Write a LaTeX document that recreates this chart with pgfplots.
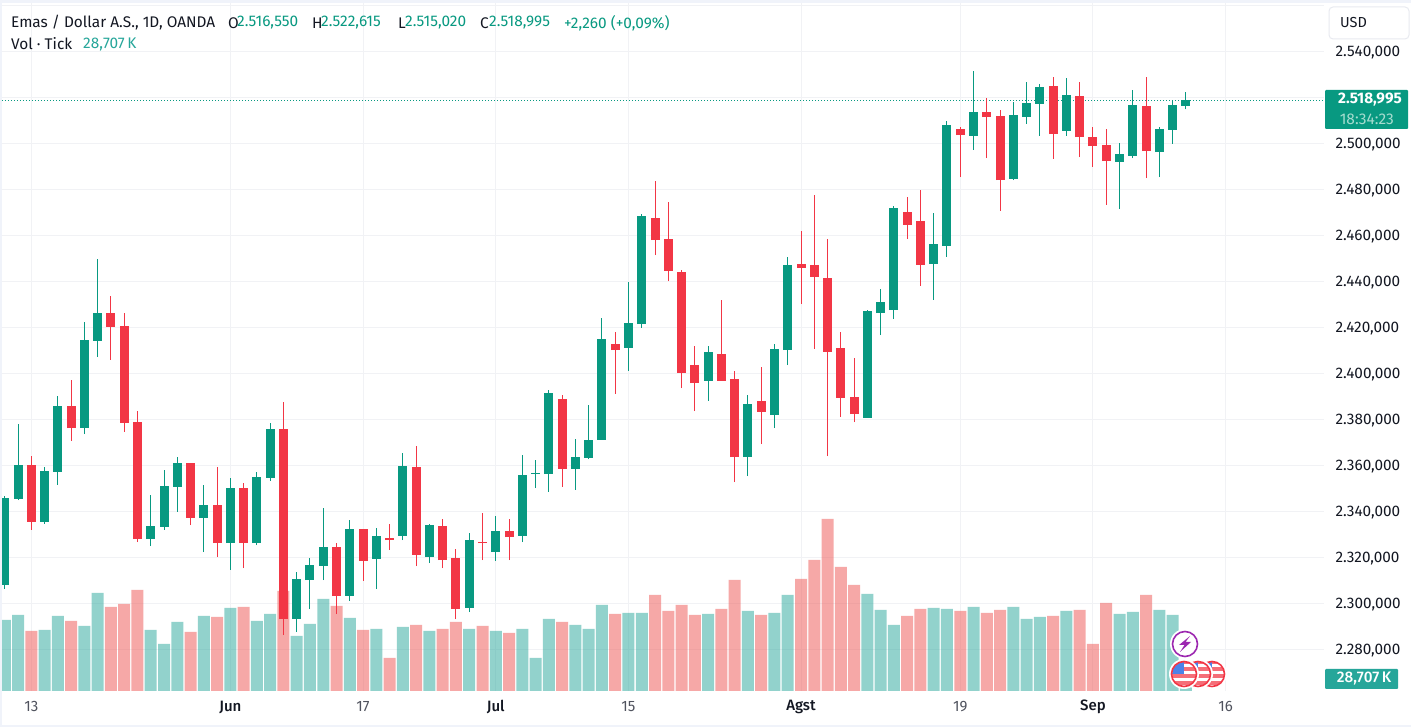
\documentclass[border=0pt]{standalone}
\usepackage{pgfplots}
\usepackage{pgfplotstable}
\usepackage{fontspec}
\pgfplotsset{compat=1.18}
\setmainfont{Fira Sans}
\newfontfamily\medfont{Fira Sans Medium}
\definecolor{cg}{HTML}{089981}
\definecolor{cr}{HTML}{F23645}
\definecolor{vg}{HTML}{26A69A}
\definecolor{vr}{HTML}{EF5350}
\definecolor{ink}{HTML}{131722}
\definecolor{tickgray}{HTML}{50535E}
\definecolor{gridc}{HTML}{F1F2F5}
\definecolor{strip}{HTML}{F0F3FA}
\definecolor{purp}{HTML}{9C27B0}
\definecolor{flagblue}{HTML}{4C82E8}
\definecolor{flagred}{HTML}{F56E78}
\definecolor{boxline}{HTML}{E8EAF0}
\definecolor{timec}{HTML}{A6DCCF}
% i high top bottom low (price, USD)
\pgfplotstableread{
i hi top bot lo
0 2346.9 2346.1 2308.4 2306.6
1 2378.3 2360.4 2345.8 2345.2
3 2359.5 2357.8 2335.8 2334.9
4 2390.4 2386.1 2357.5 2351.9
6 2422.6 2414.8 2376.5 2373.9
7 2450.0 2426.5 2414.4 2407.4
11 2347.4 2333.9 2328.2 2325.2
12 2358.2 2351.3 2333.5 2332.2
13 2363.9 2361.3 2350.9 2340.0
15 2351.7 2343.0 2337.4 2322.6
17 2354.8 2350.4 2326.5 2314.8
19 2357.4 2355.2 2326.5 2325.6
20 2378.7 2376.1 2354.8 2353.5
22 2313.9 2310.9 2293.4 2287.8
23 2320.0 2317.0 2310.4 2297.8
24 2341.7 2324.8 2316.5 2310.4
26 2336.5 2332.6 2303.5 2301.3
28 2333.0 2329.6 2319.6 2306.5
30 2365.6 2359.9 2329.6 2327.8
32 2334.8 2334.3 2320.4 2317.8
35 2330.9 2327.8 2298.3 2296.5
37 2338.2 2331.7 2322.6 2318.7
39 2364.8 2356.1 2329.6 2326.9
40 2362.6 2356.9 2356.5 2350.4
41 2393.0 2391.7 2356.5 2348.7
43 2371.7 2363.9 2358.7 2349.6
44 2386.5 2371.3 2363.5 2363.0
45 2424.3 2415.2 2371.3 2371.3
47 2440.0 2422.2 2411.3 2401.3
48 2469.6 2468.7 2421.7 2420.0
53 2412.2 2409.6 2397.0 2388.3
56 2390.9 2386.9 2363.9 2355.6
58 2413.0 2410.9 2382.2 2376.5
59 2450.9 2447.4 2410.4 2403.9
65 2427.8 2427.4 2380.9 2380.9
66 2436.9 2431.3 2426.5 2416.9
67 2473.0 2472.2 2427.8 2423.9
70 2470.0 2456.5 2447.8 2432.2
71 2510.0 2508.3 2455.7 2450.9
73 2531.7 2513.9 2503.5 2497.4
76 2518.3 2512.6 2484.8 2484.3
77 2526.9 2517.8 2511.7 2508.7
78 2526.1 2524.8 2517.4 2503.5
80 2528.7 2521.3 2505.7 2503.5
84 2500.4 2495.7 2492.2 2471.7
85 2523.5 2516.9 2494.8 2493.9
87 2507.4 2506.5 2496.5 2485.6
88 2518.7 2516.9 2506.1 2500.0
89 2522.6 2519.0 2516.55 2515.0
}\greentab
\pgfplotstableread{
i hi top bot lo
2 2364.3 2360.4 2335.8 2332.3
5 2397.4 2386.1 2376.5 2370.9
8 2433.9 2426.5 2420.4 2406.1
9 2426.5 2420.9 2378.7 2374.8
10 2383.9 2379.1 2328.2 2326.9
14 2361.3 2361.3 2337.4 2334.3
16 2359.5 2343.0 2326.5 2320.4
18 2352.6 2350.4 2326.5 2315.6
21 2387.8 2376.1 2293.4 2286.5
25 2326.5 2324.8 2303.5 2295.6
27 2332.6 2332.6 2318.7 2310.0
29 2334.8 2328.7 2327.8 2323.5
31 2368.7 2359.5 2321.3 2316.5
33 2336.9 2333.9 2319.1 2315.6
34 2323.9 2320.0 2297.8 2293.4
36 2339.6 2326.9 2326.5 2319.1
38 2336.9 2331.7 2329.1 2319.1
42 2390.9 2389.1 2358.7 2350.9
46 2418.3 2413.0 2410.4 2391.3
49 2483.9 2467.8 2458.2 2451.7
50 2474.8 2458.7 2444.8 2440.4
51 2445.2 2444.3 2400.4 2393.9
52 2412.2 2403.9 2396.0 2383.9
54 2432.2 2408.7 2397.0 2397.0
55 2401.3 2397.8 2363.9 2353.0
57 2403.0 2388.3 2383.5 2369.5
60 2462.2 2447.8 2446.1 2430.4
61 2477.8 2447.4 2442.2 2410.9
62 2458.7 2441.7 2409.6 2364.3
63 2418.3 2411.3 2389.6 2381.3
64 2406.9 2390.0 2382.6 2379.1
68 2476.9 2470.4 2464.8 2458.7
69 2480.0 2466.5 2447.4 2438.3
72 2507.4 2506.5 2503.9 2485.6
74 2520.0 2513.9 2511.7 2493.9
75 2514.8 2512.2 2484.3 2470.9
79 2529.1 2525.2 2504.3 2493.5
81 2526.9 2520.9 2503.0 2494.3
82 2507.4 2503.0 2499.1 2490.0
83 2506.5 2499.6 2492.6 2473.5
86 2529.1 2516.5 2496.9 2485.2
}\redtab
% volume in K
\pgfplotstableread{
i v
0 156.2
1 167.2
3 134.2
4 165
6 143
7 215.6
11 134.2
12 103.4
13 151.8
15 165
17 182.6
19 154
20 169.4
22 121
23 147.4
24 202.4
26 160.6
28 136.4
30 140.8
32 132
35 136.4
37 132
39 136.4
40 72.6
41 158.4
43 145.2
44 136.4
45 189.2
47 171.6
48 171.6
53 169.4
56 176
58 171.6
59 211.2
65 213.4
66 178.2
67 145.2
70 182.6
71 180.4
73 184.8
76 184.8
77 158.4
78 162.8
80 176
84 169.4
85 173.8
87 178.2
88 167.2
89 28.7
}\volgreen
\pgfplotstableread{
i v
2 132
5 154
8 184.8
9 191.4
10 222.2
14 129.8
16 162.8
18 184.8
21 220
25 187
27 134.2
29 72.6
31 145.2
33 136.4
34 151.8
36 143
38 127.6
42 151.8
46 169.4
49 211.2
50 176
51 189.2
52 167.2
54 180.4
55 244.2
57 167.2
60 246.4
61 288.2
62 378.4
63 272.8
64 233.2
68 165
69 180.4
72 176
74 171.6
75 178.2
79 165
81 178.2
82 103.4
83 193.6
86 211.2
}\volred
\pgfplotsset{
  base/.style={
    scale only axis, anchor=south west, at={(2pt,36pt)},
    width=1322pt, height=687.5pt,
    xmin=-0.208, xmax=99.415,
  },
}
\begin{document}
\begin{tikzpicture}[x=1pt,y=1pt]
\useasboundingbox (0,0) rectangle (1411,727);
\fill[strip] (0,0) rectangle (1411,727);
\fill[white] (2,2) rectangle (1411,723.5);
% price axis: grid, tick labels, last-price line
\begin{axis}[base,
  ymin=2262.17, ymax=2561.09,
  axis line style={draw=none}, tick style={draw=none},
  xtick={2,17,27,37,47,60,72,82,92},
  xticklabels={{\color{tickgray}13},{\medfont Jun},{\color{tickgray}17},{\medfont Jul},{\color{tickgray}15},{\medfont Agst},{\color{tickgray}19},{\medfont Sep},{\color{tickgray}16}},
  xticklabel style={font=\fontsize{15}{17}\selectfont, text=ink, anchor=center, yshift=-16pt},
  ytick={2280,2300,2320,2340,2360,2380,2400,2420,2440,2460,2480,2500,2520,2540,2560},
  yticklabels={2.280{,}000,2.300{,}000,2.320{,}000,2.340{,}000,2.360{,}000,2.380{,}000,2.400{,}000,2.420{,}000,2.440{,}000,2.460{,}000,2.480{,}000,2.500{,}000,,2.540{,}000,},
  yticklabel pos=right,
  yticklabel style={font=\fontsize{15.3}{17}\selectfont, text=ink, anchor=west, xshift=8pt, yshift=-1pt},
  grid=major, grid style={draw=gridc, line width=1pt},
]
\addplot[cg, line width=1pt, dash pattern=on 1pt off 2pt] coordinates {(-0.208,2518.995)(99.415,2518.995)};
\end{axis}
% volume
\begin{axis}[base, hide axis, ymin=0, ymax=1512.5]
\addplot[ybar, bar width=12pt, bar shift=0pt, draw=none, fill=vg, fill opacity=0.5] table[x=i,y=v] \volgreen;
\addplot[ybar, bar width=12pt, bar shift=0pt, draw=none, fill=vr, fill opacity=0.5] table[x=i,y=v] \volred;
\end{axis}
% candles
\begin{axis}[base, hide axis, ymin=2262.17, ymax=2561.09]
\addplot[draw=none, mark=none, error bars/.cd, y dir=plus, y explicit, error mark=none, error bar style={draw=cg, line width=1pt}] table[x=i, y=lo, y error expr=\thisrow{hi}-\thisrow{lo}] \greentab;
\addplot[draw=none, mark=none, error bars/.cd, y dir=plus, y explicit, error mark=none, error bar style={draw=cr, line width=1pt}] table[x=i, y=lo, y error expr=\thisrow{hi}-\thisrow{lo}] \redtab;
\addplot[draw=none, mark=none, error bars/.cd, y dir=plus, y explicit, error mark=none, error bar style={draw=cg, line width=9pt}] table[x=i, y=bot, y error expr=\thisrow{top}-\thisrow{bot}] \greentab;
\addplot[draw=none, mark=none, error bars/.cd, y dir=plus, y explicit, error mark=none, error bar style={draw=cr, line width=9pt}] table[x=i, y=bot, y error expr=\thisrow{top}-\thisrow{bot}] \redtab;
\end{axis}
% header
\tikzset{hd/.style={anchor=west, inner sep=0pt, text=ink, font=\fontsize{15.4}{17}\selectfont}}
\node[hd] at (11,704) {Emas / Dollar A.S., 1D, OANDA};
\node[hd] at (228,704) {O};
\node[hd, text=cg] at (237,704) {2.516,550};
\node[hd] at (312,704) {H};
\node[hd, text=cg] at (321,704) {2.522,615};
\node[hd] at (398,704) {L};
\node[hd, text=cg] at (405,704) {2.515,020};
\node[hd] at (480,704) {C};
\node[hd, text=cg] at (489,704) {2.518,995};
\node[hd, text=cg] at (564,704) {+2,260 (+0,09\%)};
\node[hd] at (11,683) {Vol · Tick};
\node[hd, text=vg] at (83,683) {28,707\,K};
% USD box
\draw[draw=boxline, fill=white, line width=1pt, rounded corners=4pt] (1329,688) rectangle (1409,720);
\node[anchor=west, inner sep=0pt, text=ink, font=\fontsize{14.5}{17}\selectfont] at (1340,704) {USD};
% last price tag
\fill[cg, rounded corners=1pt] (1325,598) rectangle (1408,637);
\node[anchor=east, inner sep=0pt, text=white, font=\fontsize{15.3}{17}\selectfont\bfseries] at (1402,627) {2.518,995};
\node[anchor=east, inner sep=0pt, text=timec, font=\fontsize{15.5}{17}\selectfont] at (1394,608) {18:34:23};
% volume tag
\fill[vg, rounded corners=1pt] (1325,38) rectangle (1398,58);
\node[anchor=center, inner sep=0pt, text=white, font=\fontsize{15.3}{17}\selectfont\medfont] at (1364,48) {28,707\,K};
% event icons
\fill[white] (1185,83) circle (15);
\draw[purp, line width=1.6pt] (1185,83) circle (12.5);
\fill[purp] (1190,91) -- (1179,82) -- (1184.5,82) -- (1180,75) -- (1191,85) -- (1185.5,85) -- cycle;
\foreach \cx/\cl/\cc/\cr in {1212/1199/1212/1225,1198/1185/1198/1211,1184/1171/1184/1197}{
  \fill[white] (\cx,53) circle (15);
  \begin{scope}
    \clip (\cx,53) circle (12);
    \fill[flagred] (\cl,42) rectangle (\cr,45.5);
    \fill[flagred] (\cl,49) rectangle (\cr,52.5);
    \fill[flagred] (\cl,56) rectangle (\cr,59.5);
    \fill[flagred] (\cl,63) rectangle (\cr,66);
    \fill[flagblue] (\cl,53) rectangle (\cc,66);
  \end{scope}
  \draw[cr, line width=1.6pt] (\cx,53) circle (12.5);
}
\end{tikzpicture}
\end{document}
